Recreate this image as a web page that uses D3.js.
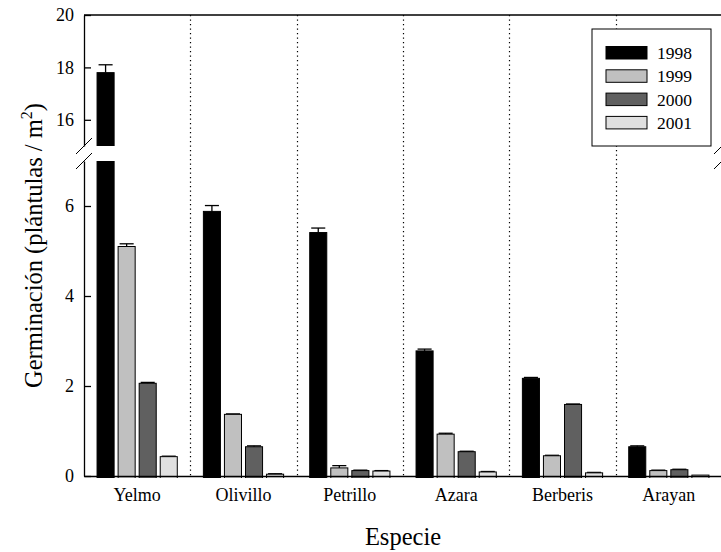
<!DOCTYPE html>
<html>
<head>
<meta charset="utf-8">
<script src="https://cdn.jsdelivr.net/npm/d3@7"></script>
<style>
  body { margin: 0; background: #fff; }
</style>
</head>
<body>
<svg id="chart" width="721" height="552"></svg>
<script>
// Data
const species = ['Yelmo', 'Olivillo', 'Petrillo', 'Azara', 'Berberis', 'Arayan'];
const years = ['1998', '1999', '2000', '2001'];
const colors = ['#000000', '#c0c0c0', '#606060', '#e0e0e0'];

// mean germination per species, one array per year
const y1998 = [17.8, 5.88, 5.41, 2.78, 2.17, 0.65];
const y1999 = [5.1, 1.37, 0.18, 0.93, 0.45, 0.12];
const y2000 = [2.06, 0.65, 0.12, 0.54, 1.59, 0.14];
const y2001 = [0.43, 0.04, 0.11, 0.09, 0.07, 0.02];

// upper error (standard error)
const e1998 = [0.3, 0.13, 0.1, 0.04, 0.02, 0.02];
const e1999 = [0.06, 0.01, 0.05, 0.02, 0.01, 0.01];
const e2000 = [0.02, 0.02, 0.01, 0.01, 0.01, 0.01];
const e2001 = [0.01, 0.01, 0.01, 0.01, 0.01, 0.0];

const lowTicks = [0, 2, 4, 6];
const highTicks = [16, 18, 20];

const means = [y1998, y1999, y2000, y2001];
const errs = [e1998, e1999, e2000, e2001];

const FONT = '"Liberation Serif", "Times New Roman", Times, "DejaVu Serif", serif';

// flatten into bar records
const bars = [];
species.forEach((s, i) => {
  years.forEach((yr, j) => {
    bars.push({ species: s, year: yr, value: means[j][i], err: errs[j][i], color: colors[j] });
  });
});

const svg = d3.select('#chart').style('font-family', FONT);

// Scales
const left = 84, right = 722;
const x = d3.scaleBand().domain(species).range([left, right]);
const xInner = d3.scaleBand().domain(years).range([0, x.bandwidth()])
  .paddingInner(0.19).paddingOuter(0.62);

// broken y axis: two panels
const yLow = d3.scaleLinear().domain([0, 7]).range([476, 161]);
const yHigh = d3.scaleLinear().domain([15, 20]).range([146, 15]);

// clip paths for each panel
const defs = svg.append('defs');
defs.append('clipPath').attr('id', 'clipLow')
  .append('rect').attr('x', left).attr('y', yLow(7)).attr('width', right - left).attr('height', yLow(0) - yLow(7) + 2);
defs.append('clipPath').attr('id', 'clipHigh')
  .append('rect').attr('x', left).attr('y', yHigh(20) - 12).attr('width', right - left).attr('height', yHigh(15) - yHigh(20) + 12);

// dotted separators between species
svg.append('g')
  .selectAll('line')
  .data(species.slice(1))
  .join('line')
    .attr('x1', d => Math.round(x(d)) + 0.5)
    .attr('x2', d => Math.round(x(d)) + 0.5)
    .attr('y1', yHigh(20))
    .attr('y2', yLow(0))
    .attr('stroke', '#000')
    .attr('stroke-width', 1.2)
    .attr('stroke-dasharray', '1.2,3.3');

// draws bars + error bars into a panel
function drawPanel(yscale, clipId, base) {
  const g = svg.append('g').attr('clip-path', `url(#${clipId})`);
  const gb = g.selectAll('g.bar')
    .data(bars)
    .join('g')
      .attr('class', 'bar')
      .attr('transform', d => `translate(${x(d.species) + xInner(d.year)},0)`);

  // error bars (upwards only)
  gb.filter(d => d.err > 0)
    .append('line')
      .attr('x1', xInner.bandwidth() / 2).attr('x2', xInner.bandwidth() / 2)
      .attr('y1', d => yscale(d.value)).attr('y2', d => yscale(d.value + d.err))
      .attr('stroke', '#000').attr('stroke-width', 1.3);
  gb.filter(d => d.err > 0)
    .append('line')
      .attr('x1', 1.5).attr('x2', xInner.bandwidth() - 1.5)
      .attr('y1', d => yscale(d.value + d.err)).attr('y2', d => yscale(d.value + d.err))
      .attr('stroke', '#000').attr('stroke-width', 1.3);

  gb.append('rect')
    .attr('x', 0)
    .attr('width', xInner.bandwidth())
    .attr('y', d => yscale(d.value))
    .attr('height', d => Math.max(0, yscale(base) - yscale(d.value)) + 10)
    .attr('fill', d => d.color)
    .attr('stroke', '#000')
    .attr('stroke-width', 1);
}

drawPanel(yLow, 'clipLow', 0);
drawPanel(yHigh, 'clipHigh', 15);

// Axes
const fmt = d3.format('d');
const axLow = svg.append('g')
  .attr('transform', `translate(${left},0)`)
  .call(d3.axisLeft(yLow).tickValues(lowTicks).tickFormat(fmt)
    .tickSizeInner(-7).tickSizeOuter(0).tickPadding(10));
const axHigh = svg.append('g')
  .attr('transform', `translate(${left},0)`)
  .call(d3.axisLeft(yHigh).tickValues(highTicks).tickFormat(fmt)
    .tickSizeInner(-7).tickSizeOuter(0).tickPadding(10));

const axBottom = svg.append('g')
  .attr('transform', `translate(0,${yLow(0)})`)
  .call(d3.axisBottom(x).tickSize(0).tickPadding(12));

[axLow, axHigh, axBottom].forEach(a => {
  a.attr('font-size', null).attr('font-family', FONT);
  a.selectAll('text').attr('font-family', FONT).style('font-size', '18px');
  a.selectAll('path, line').attr('stroke', '#000').attr('stroke-width', 1.3);
});

// top frame line
svg.append('line')
  .attr('x1', left).attr('x2', right)
  .attr('y1', yHigh(20)).attr('y2', yHigh(20))
  .attr('stroke', '#000').attr('stroke-width', 1.3);

// break marks on both sides
const breaks = [];
[left, right].forEach(bx => {
  [yHigh(15), yLow(7)].forEach(by => breaks.push([bx, by]));
});
svg.append('g')
  .selectAll('line')
  .data(breaks)
  .join('line')
    .attr('x1', d => d[0] - 8).attr('y1', d => d[1] + 8)
    .attr('x2', d => d[0] + 8).attr('y2', d => d[1] - 8)
    .attr('stroke', '#000').attr('stroke-width', 1);

// Legend
const legend = svg.append('g').attr('transform', 'translate(592,29)');
legend.append('rect')
  .attr('width', 119).attr('height', 117)
  .attr('fill', '#fff').attr('stroke', '#000').attr('stroke-width', 1);
const li = legend.selectAll('g.item')
  .data(years)
  .join('g')
    .attr('class', 'item')
    .attr('transform', (d, i) => `translate(14,${17.5 + i * 23.3})`);
li.append('rect')
  .attr('width', 41).attr('height', 12.5)
  .attr('fill', (d, i) => colors[i])
  .attr('stroke', '#000').attr('stroke-width', 1);
li.append('text')
  .attr('x', 51).attr('y', 6.5)
  .attr('dominant-baseline', 'central')
  .attr('font-family', FONT)
  .style('font-size', '17.5px')
  .text(d => d);

// Axis titles
svg.append('text')
  .attr('x', (left + right) / 2).attr('y', 545)
  .attr('text-anchor', 'middle')
  .attr('font-family', FONT)
  .style('font-size', '24.5px')
  .text('Especie');

const yt = svg.append('text')
  .attr('transform', `translate(42,${(yHigh(20) + yLow(0)) / 2}) rotate(-90)`)
  .attr('text-anchor', 'middle')
  .attr('font-family', FONT)
  .style('font-size', '24.5px');
yt.append('tspan').text('Germinación (plántulas / m');
yt.append('tspan').attr('dy', -10).style('font-size', '16px').text('2');
yt.append('tspan').attr('dy', 10).text(')');
</script>
</body>
</html>
